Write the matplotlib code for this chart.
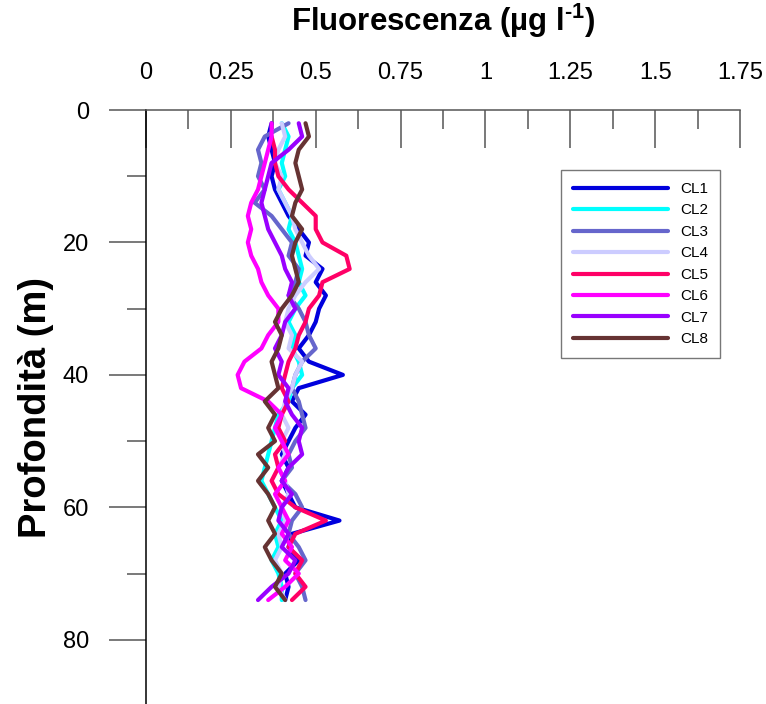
import matplotlib
matplotlib.use('Agg')
import matplotlib.pyplot as plt
import numpy as np

plt.rcParams['font.family'] = ['Liberation Sans', 'DejaVu Sans']
plt.rcParams['mathtext.fontset'] = 'custom'
plt.rcParams['mathtext.rm'] = 'Liberation Sans:bold'
plt.rcParams['mathtext.bf'] = 'Liberation Sans:bold'

# profondita (m), comune a tutte le stazioni
depth = [2, 4, 6, 8, 10, 12, 14, 16, 18, 20, 22, 24, 26, 28, 30, 32, 34, 36, 38,
         40, 42, 44, 46, 48, 50, 52, 54, 56, 58, 60, 62, 64, 66, 68, 70, 72, 74]

# fluorescenza (ug/l)
cl1 = [0.37, 0.36, 0.37, 0.38, 0.37, 0.38, 0.40, 0.42, 0.45, 0.48, 0.47, 0.52, 0.50,
       0.53, 0.51, 0.50, 0.48, 0.45, 0.48, 0.58, 0.45, 0.43, 0.47, 0.44, 0.42, 0.40,
       0.42, 0.40, 0.42, 0.44, 0.57, 0.43, 0.42, 0.45, 0.41, 0.42, 0.41]
cl2 = [0.40, 0.42, 0.41, 0.40, 0.41, 0.39, 0.41, 0.43, 0.42, 0.44, 0.45, 0.46, 0.45,
       0.47, 0.44, 0.42, 0.44, 0.43, 0.45, 0.46, 0.43, 0.42, 0.39, 0.38, 0.37, 0.36,
       0.35, 0.34, 0.36, 0.38, 0.40, 0.38, 0.39, 0.37, 0.39, 0.40, 0.40]
cl3 = [0.42, 0.35, 0.33, 0.34, 0.33, 0.35, 0.32, 0.37, 0.40, 0.43, 0.42, 0.45, 0.44,
       0.42, 0.45, 0.47, 0.48, 0.50, 0.46, 0.44, 0.43, 0.45, 0.46, 0.47, 0.44, 0.42,
       0.43, 0.40, 0.44, 0.46, 0.43, 0.42, 0.45, 0.47, 0.44, 0.46, 0.47]
cl4 = [0.40, 0.41, 0.39, 0.38, 0.40, 0.39, 0.41, 0.43, 0.44, 0.46, 0.48, 0.51, 0.47,
       0.44, 0.42, 0.41, 0.43, 0.42, 0.46, 0.44, 0.43, 0.41, 0.40, 0.42, 0.40, 0.41,
       0.39, 0.41, 0.42, 0.40, 0.41, 0.39, 0.40, 0.38, 0.40, 0.39, 0.41]
cl5 = [np.nan, 0.37, 0.38, 0.38, 0.39, 0.42, 0.46, 0.50, 0.50, 0.52, 0.59, 0.60, 0.52,
       0.51, 0.48, 0.47, 0.45, 0.44, 0.42, 0.41, 0.40, 0.42, 0.40, 0.39, 0.41, 0.38,
       0.39, 0.37, 0.39, 0.44, 0.53, 0.44, 0.42, 0.46, 0.44, 0.47, 0.43]
cl6 = [0.37, 0.37, 0.36, 0.35, 0.34, 0.33, 0.31, 0.30, 0.31, 0.30, 0.31, 0.33, 0.34,
       0.36, 0.39, 0.39, 0.36, 0.34, 0.29, 0.27, 0.28, 0.36, 0.40, 0.38, 0.40, 0.42,
       0.39, 0.41, 0.38, 0.40, 0.42, 0.40, 0.43, 0.41, 0.45, 0.41, 0.36]
cl7 = [0.45, 0.46, 0.42, 0.37, 0.36, 0.35, 0.34, 0.35, 0.36, 0.38, 0.40, 0.41, 0.43,
       0.42, 0.44, 0.41, 0.40, 0.38, 0.40, 0.39, 0.42, 0.41, 0.43, 0.46, 0.45, 0.46,
       0.42, 0.40, 0.43, 0.40, 0.39, 0.42, 0.40, 0.44, 0.42, 0.37, 0.33]
cl8 = [0.47, 0.48, 0.45, 0.44, 0.45, 0.46, 0.44, 0.43, 0.46, 0.44, 0.43, 0.44, 0.45,
       0.43, 0.40, 0.38, 0.40, 0.39, 0.37, 0.38, 0.39, 0.35, 0.38, 0.36, 0.38, 0.33,
       0.36, 0.33, 0.36, 0.38, 0.36, 0.38, 0.35, 0.37, 0.40, 0.38, 0.41]

series = [cl1, cl2, cl3, cl4, cl5, cl6, cl7, cl8]
names = ['CL1', 'CL2', 'CL3', 'CL4', 'CL5', 'CL6', 'CL7', 'CL8']
colors = ['#0000dd', '#00ffff', '#6666cc', '#ccccff',
          '#ff0066', '#ff00ff', '#9900ff', '#663333']

fig = plt.figure(figsize=(7.66, 7.04), dpi=100)
ax = fig.add_axes([146 / 766, 0.0, (740 - 146) / 766, 1 - 110 / 704])

for vals, name, col in zip(series, names, colors):
    ax.plot(vals, depth, color=col, lw=3.0, label=name, solid_capstyle='round')

ax.set_xlim(0, 1.75)
ax.set_ylim(89.7, 0)

# asse x in alto, tacche verso l'interno
ax.xaxis.tick_top()
ax.xaxis.set_label_position('top')
ax.set_xticks(np.arange(0, 1.751, 0.25))
ax.set_xticklabels(['0', '0.25', '0.5', '0.75', '1', '1.25', '1.5', '1.75'])
ax.set_xticks(np.arange(0.125, 1.75, 0.25), minor=True)
ax.tick_params(axis='x', which='major', direction='in', length=27, width=1.1,
               color='#555555', labelsize=17, pad=19)
ax.tick_params(axis='x', which='minor', direction='in', length=14, width=1.1,
               color='#555555')

ax.set_yticks([0, 20, 40, 60, 80])
ax.set_yticks([10, 30, 50, 70], minor=True)
ax.tick_params(axis='y', which='major', direction='out', length=27, width=1.1,
               color='#555555', labelsize=17, pad=14)
ax.tick_params(axis='y', which='minor', direction='out', length=14, width=1.1,
               color='#555555')

ax.spines['right'].set_visible(False)
ax.spines['bottom'].set_visible(False)
ax.spines['top'].set_color('#555555')
ax.spines['top'].set_linewidth(1.1)
ax.spines['left'].set_color('black')
ax.spines['left'].set_linewidth(1.1)

ax.set_xlabel(r'Fluorescenza (µg l$^{\text{-}1}$)', fontsize=22.5,
              fontweight='bold', labelpad=22)
ax.set_ylabel('Profondità (m)', fontsize=27.5, fontweight='bold', labelpad=6)

leg = ax.legend(loc='upper right', bbox_to_anchor=(720 / 766, 1 - 170 / 704),
                bbox_transform=fig.transFigure, fontsize=11, handlelength=6.2,
                labelspacing=0.49, borderpad=0.78, fancybox=False, frameon=True,
                borderaxespad=0)
leg.get_frame().set_edgecolor('#555555')
leg.get_frame().set_linewidth(1.0)

plt.savefig('out.png', dpi=100)
